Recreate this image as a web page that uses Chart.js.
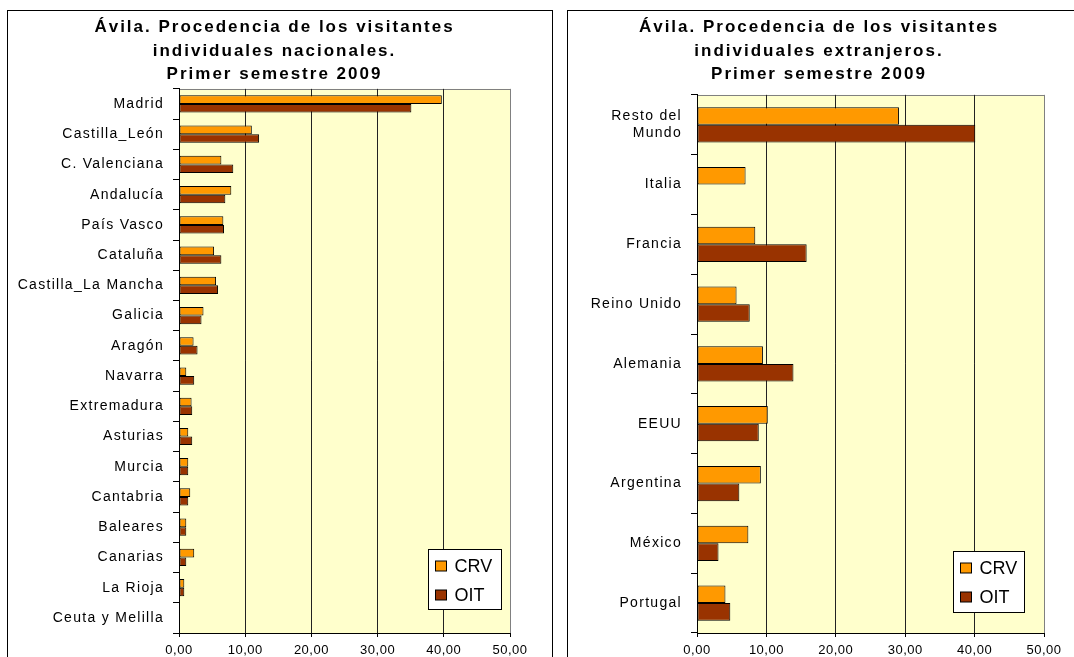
<!DOCTYPE html>
<html>
<head>
<meta charset="utf-8">
<script src="https://cdn.jsdelivr.net/npm/chart.js@4.4.0/dist/chart.umd.min.js"></script>
<style>
  body { margin: 0; background: #fff; overflow: hidden; }
  .box { position: absolute; top: 10px; height: 660px; border: 1px solid #000; background: #fff; }
  #boxNat { left: 7px; width: 544px; }
  #boxExt { left: 567px; width: 540px; }
  canvas { position: absolute; left: 0; top: 0; }
</style>
</head>
<body>
<div class="box" id="boxNat"><canvas id="natChart" width="526" height="660"></canvas></div>
<div class="box" id="boxExt"><canvas id="extChart" width="500" height="660"></canvas></div>
<script>
// Data
const natLabels = ['Madrid', 'Castilla_León', 'C. Valenciana', 'Andalucía', 'País Vasco', 'Cataluña',
  'Castilla_La Mancha', 'Galicia', 'Aragón', 'Navarra', 'Extremadura', 'Asturias', 'Murcia',
  'Cantabria', 'Baleares', 'Canarias', 'La Rioja', 'Ceuta y Melilla'];
const natCRV = [39.7, 11.0, 6.4, 7.9, 6.7, 5.3, 5.6, 3.7, 2.2, 1.1, 1.9, 1.4, 1.4, 1.7, 1.1, 2.3, 0.8, 0];
const natOIT = [35.1, 12.1, 8.2, 7.0, 6.8, 6.4, 5.9, 3.4, 2.8, 2.3, 2.0, 2.0, 1.4, 1.4, 1.1, 1.1, 0.8, 0];

const extLabels = [['Resto del', 'Mundo'], 'Italia', 'Francia', 'Reino Unido', 'Alemania', 'EEUU',
  'Argentina', 'México', 'Portugal'];
const extCRV = [29.1, 7.0, 8.4, 5.7, 9.5, 10.2, 9.2, 7.4, 4.1];
const extOIT = [40.1, null, 15.8, 7.6, 13.9, 8.9, 6.1, 3.1, 4.8];

const xTicks = ['0,00', '10,00', '20,00', '30,00', '40,00', '50,00'];
const seriesNames = ['CRV', 'OIT'];

Chart.defaults.font.family = '"Liberation Sans", Arial, sans-serif';
Chart.defaults.color = '#000';

// plot background + grey frame
const plotBg = {
  id: 'plotBg',
  beforeDraw(chart) {
    const { left, top, right, bottom } = chart.chartArea;
    const ctx = chart.ctx;
    ctx.save();
    ctx.fillStyle = '#FFFFCC';
    ctx.fillRect(left, top, right - left, bottom - top);
    ctx.strokeStyle = '#808080';
    ctx.lineWidth = 1;
    ctx.strokeRect(Math.round(left) + 0.5, Math.round(top) + 0.5, Math.round(right - left), Math.round(bottom - top));
    ctx.restore();
  }
};

// legend box inside the plot, bottom right
const boxLegend = {
  id: 'boxLegend',
  afterDraw(chart, args, o) {
    const ctx = chart.ctx, a = chart.chartArea;
    const x = Math.round(a.right - o.right - o.width) + 0.5;
    const y = Math.round(a.bottom - o.bottom - o.height) + 0.5;
    ctx.save();
    ctx.letterSpacing = '0px';
    ctx.fillStyle = '#fff';
    ctx.fillRect(x, y, o.width, o.height);
    ctx.strokeStyle = '#000';
    ctx.lineWidth = 1;
    ctx.strokeRect(x, y, o.width, o.height);
    ctx.font = '18px "Liberation Sans", Arial, sans-serif';
    ctx.textBaseline = 'middle';
    chart.data.datasets.forEach((ds, i) => {
      const cy = Math.round(y + 16 + i * 29);
      ctx.fillStyle = ds.backgroundColor;
      ctx.fillRect(x + 7, cy - 5, 11, 10);
      ctx.strokeRect(x + 7, cy - 5, 11, 10);
      ctx.fillStyle = '#000';
      ctx.fillText(ds.label, x + 26, cy + 1);
    });
    ctx.restore();
  }
};

// the original text is drawn with wide letter spacing
function wrapSpacing(obj, fn, sp, dx) {
  if (!obj || obj['_sp_' + fn]) return;
  const orig = obj[fn];
  obj[fn] = function (...args) {
    const c = this.ctx;
    c.save();
    c.letterSpacing = sp;
    if (dx) c.translate(dx, 0);
    orig.apply(this, args);
    c.restore();
  };
  obj['_sp_' + fn] = true;
}
const spacing = {
  id: 'spacing',
  afterLayout(chart, args, o) {
    wrapSpacing(chart.titleBlock, 'draw', '2px', o.titleShift);
    wrapSpacing(chart.scales.y, 'drawLabels', '1.3px');
    wrapSpacing(chart.scales.x, 'drawLabels', '0.5px');
  }
};

function makeChart(id, title, labels, crv, oit, o) {
  return new Chart(document.getElementById(id), {
    type: 'bar',
    data: {
      labels: labels,
      datasets: [
        { label: seriesNames[0], data: crv, backgroundColor: '#FF9900', borderColor: '#000', borderWidth: 1, borderSkipped: false },
        { label: seriesNames[1], data: oit, backgroundColor: '#993300', borderColor: '#000', borderWidth: 1, borderSkipped: false }
      ]
    },
    options: {
      indexAxis: 'y',
      responsive: false,
      animation: false,
      categoryPercentage: o.catPct,
      barPercentage: 1,
      layout: { padding: { left: 0, right: 24, top: 0, bottom: 8 } },
      plugins: {
        legend: { display: false },
        tooltip: { enabled: false },
        title: {
          display: true,
          text: title,
          color: '#000',
          font: { size: 17, weight: 'bold', lineHeight: 1.37 },
          padding: { top: 5, bottom: o.titleBottom }
        },
        boxLegend: o.legend,
        spacing: { titleShift: o.titleShift }
      },
      scales: {
        x: {
          min: 0,
          max: 50,
          ticks: { stepSize: 10, font: { size: 13 }, padding: 6, callback: (v, i) => xTicks[i] },
          grid: {
            color: ctx => (ctx.tick && ctx.tick.value === 50 ? '#808080' : '#222'),
            tickColor: '#000',
            tickLength: 4
          },
          border: { color: '#000' },
          afterFit: s => { s.height = 30; }
        },
        y: {
          ticks: { font: { size: 14 }, padding: 9 },
          grid: { drawOnChartArea: false, color: '#000', tickLength: 6 },
          border: { color: '#000' },
          afterFit: s => { s.width = o.yWidth; }
        }
      }
    },
    plugins: [plotBg, boxLegend, spacing]
  });
}

const natChart = makeChart('natChart',
  ['Ávila. Procedencia de los visitantes', 'individuales nacionales.', 'Primer semestre 2009'],
  natLabels, natCRV, natOIT,
  { yWidth: 171, titleBottom: 3, titleShift: 15.5, catPct: 0.57, legend: { right: 9, bottom: 24, width: 73, height: 60 } });

const extChart = makeChart('extChart',
  ['Ávila. Procedencia de los visitantes', 'individuales extranjeros.', 'Primer semestre 2009'],
  extLabels, extCRV, extOIT,
  { yWidth: 129, titleBottom: 9, titleShift: 13, catPct: 0.59, legend: { right: 20, bottom: 21, width: 71, height: 61 } });
</script>
</body>
</html>
